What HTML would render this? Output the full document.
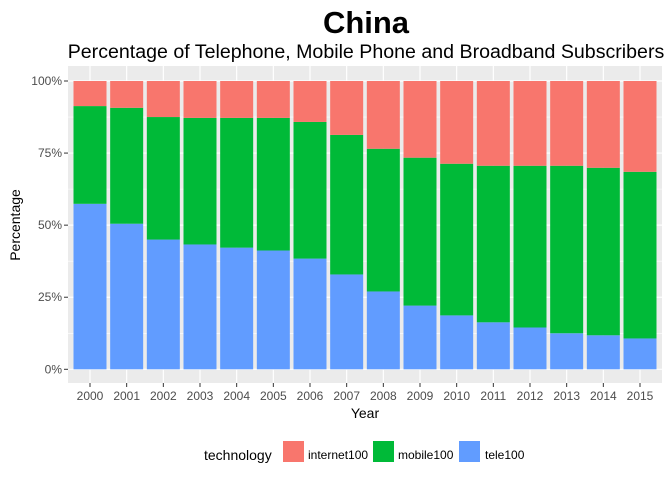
<!DOCTYPE html>
<html><head><meta charset="utf-8"><style>
body{margin:0;background:#fff;font-family:"Liberation Sans",Arial,sans-serif}
</style></head><body>
<svg width="672" height="480" xmlns="http://www.w3.org/2000/svg" id="chart">
<text x="366" y="33" text-anchor="middle" font-size="31" font-weight="bold" fill="#000">China</text>
<text x="366" y="58" text-anchor="middle" font-size="19.6" fill="#000">Percentage of Telephone, Mobile Phone and Broadband Subscribers</text>
<rect x="68" y="66" width="594" height="317" fill="#EBEBEB"/>
<g id="grid"></g><g id="bars"></g><g id="axes"></g>
<text x="365" y="418" text-anchor="middle" font-size="14" fill="#000">Year</text>
<text transform="translate(20,225) rotate(-90)" text-anchor="middle" font-size="14" fill="#000">Percentage</text>
<g>
<text x="204" y="460" font-size="14" fill="#000">technology</text>
<g><rect x="283" y="441" width="21" height="21" fill="#F8766D"/><text x="308" y="459" font-size="12" fill="#000">internet100</text></g>
<g><rect x="373" y="441" width="21" height="21" fill="#00BA38"/><text x="398" y="459" font-size="12" fill="#000">mobile100</text></g>
<g><rect x="459" y="441" width="21" height="21" fill="#619CFF"/><text x="485" y="459" font-size="12" fill="#000">tele100</text></g>
</g>
</svg>
<script>
const years=["2000","2001","2002","2003","2004","2005","2006","2007","2008","2009","2010","2011","2012","2013","2014","2015"];
const tele=[57.4,50.5,45,43.3,42.2,41.2,38.4,32.9,27,22.1,18.7,16.3,14.5,12.5,11.8,10.7];
const mobile=[33.9,40.2,42.5,43.9,45,46,47.4,48.4,49.5,51.3,52.6,54.3,56.1,58.1,58.1,57.8];
const yTicks=[0,25,50,75,100];
const ns="http://www.w3.org/2000/svg";
const L=68,R=662,y0=369.3,y100=81;
const step=(R-L)/(years.length-1+1.2);
const xc=i=>L+step*(0.6+i);
const ys=v=>y0-(y0-y100)*v/100;
const bw=step*0.9;
function mk(t,a,p){const e=document.createElementNS(ns,t);for(const k in a)e.setAttribute(k,a[k]);p.appendChild(e);return e;}
const grid=document.getElementById('grid'),bars=document.getElementById('bars'),axes=document.getElementById('axes');
for(let j=0;j<yTicks.length-1;j++){const m=(yTicks[j]+yTicks[j+1])/2;const g=mk('line',{x1:L,x2:R,y1:ys(m),y2:ys(m),stroke:'#fff','stroke-width':0.6},grid);

}
yTicks.forEach(t=>{const g=mk('line',{x1:L,x2:R,y1:ys(t),y2:ys(t),stroke:'#fff','stroke-width':1.2},grid);


const tk=mk('line',{x1:L-4,x2:L,y1:ys(t),y2:ys(t),stroke:'#333'},axes);


const tx=mk('text',{x:L-6,y:ys(t)+4,'text-anchor':'end','font-size':12,fill:'#4D4D4D'},axes);tx.textContent=t+'%';

});
years.forEach((yr,i)=>{const x=xc(i);
const g=mk('line',{x1:x,x2:x,y1:66,y2:383,stroke:'#fff','stroke-width':1.2},grid);


const t=tele[i],m=mobile[i];
const segs=[[0,t,'#619CFF','tele'],[t,t+m,'#00BA38','mobile'],[t+m,100,'#F8766D','internet']];
segs.forEach(s=>{const r=mk('rect',{x:x-bw/2,y:ys(s[1]),width:bw,height:ys(s[0])-ys(s[1]),fill:s[2]},bars);

});
const tk=mk('line',{x1:x,x2:x,y1:383,y2:387,stroke:'#333'},axes);


const tx=mk('text',{x:x,y:400,'text-anchor':'middle','font-size':12,fill:'#4D4D4D'},axes);tx.textContent=yr;

});
</script>
</body></html>
